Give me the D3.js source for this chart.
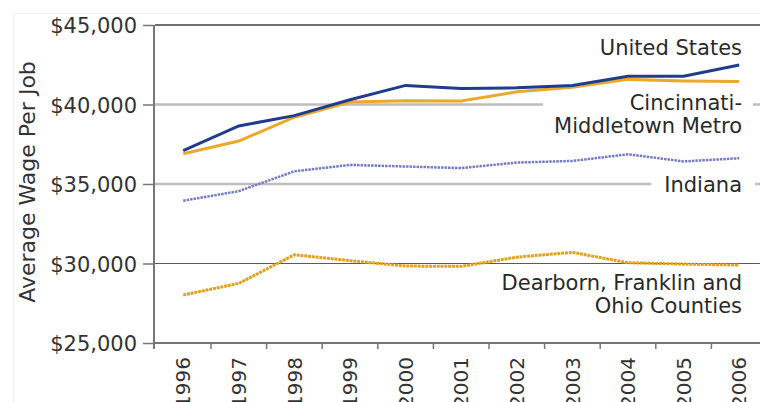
<!DOCTYPE html>
<html>
  <head>
    <meta charset="utf-8">
    <script src="https://d3js.org/d3.v7.min.js"></script>
    <title>Average Wage Per Job</title>
    <style>
      body { margin: 0px; background: white; }
      text { font-family: 'DejaVu Sans', sans-serif; fill: #2a2a2a; }
      .tick text { font-size: 21px; fill: #333333; }
      .series-label { font-size: 21px; }
      .axis-label { font-size: 22px; fill: #333333; }
    </style>
  </head>
  <body>
    <div id="chart"></div>
    <script>

      // data
      const years = ['1996','1997','1998','1999','2000','2001','2002','2003','2004','2005','2006'];
      const unitedStates = [37100, 38650, 39300, 40300, 41200, 41000, 41050, 41200, 41780, 41780, 42480];
      const cincinnati   = [36900, 37700, 39200, 40150, 40240, 40220, 40800, 41080, 41580, 41480, 41450];
      const indiana      = [33950, 34550, 35800, 36200, 36100, 36000, 36350, 36450, 36870, 36420, 36620];
      const dearborn     = [28020, 28750, 30550, 30180, 29840, 29820, 30400, 30700, 30050, 29960, 29900];
      const yTicks = [25000, 30000, 35000, 40000, 45000];

      const width = 760, height = 402;
      const svg = d3.select('#chart').append('svg')
        .attr('width', width)
        .attr('height', height);

      // faint frame of the original picture
      svg.append('path')
        .attr('d', 'M13.5,' + height + 'V13.5H' + width)
        .attr('fill', 'none')
        .attr('stroke', '#eeeeee')
        .attr('stroke-width', 1);

      const xScale = d3.scaleBand()
        .domain(years)
        .range([155.4, 155.4 + 55.6 * years.length])
        .padding(0);

      const yScale = d3.scaleLinear()
        .domain([25000, 45000])
        .range([343, 25]);

      const xc = d => xScale(d) + xScale.bandwidth() / 2;

      // gridlines
      const gridG = svg.append('g');
      gridG.selectAll('line').data(yTicks.filter(v => v > 25000))
        .enter().append('line')
          .attr('x1', 155)
          .attr('x2', width)
          .attr('y1', d => yScale(d))
          .attr('y2', d => yScale(d))
          .attr('stroke', d => (d === 35000 || d === 40000) ? '#bdbdbd' : (d === 45000 ? '#707070' : '#5a5a5a'))
          .attr('stroke-width', d => (d === 35000 || d === 40000) ? 2.5 : (d === 45000 ? 2 : 1.2));

      // y axis
      const yAxis = d3.axisLeft(yScale)
        .tickValues(yTicks)
        .tickFormat(d => '$' + d3.format(',')(d))
        .tickSize(11)
        .tickPadding(6);

      const yAxisG = svg.append('g')
        .attr('transform', 'translate(154,0)')
        .call(yAxis);
      yAxisG.select('.domain').remove();
      yAxisG.selectAll('.tick line').attr('stroke', '#777777').attr('stroke-width', 1.5);
      yAxisG.selectAll('.tick text').attr('dy', '0.36em');

      // x axis: labels at band centres, ticks on band edges
      const xAxis = d3.axisBottom(xScale)
        .tickSize(0)
        .tickPadding(0);
      const xAxisG = svg.append('g')
        .attr('transform', 'translate(0,343)')
        .call(xAxis);
      xAxisG.select('.domain').remove();
      xAxisG.selectAll('.tick text')
        .style('font-size', '20px')
        .attr('text-anchor', 'end')
        .attr('transform', 'rotate(-90)')
        .attr('x', -14)
        .attr('y', 0)
        .attr('dy', '0.36em');

      svg.append('g').selectAll('line').data(years.slice(1))
        .enter().append('line')
          .attr('x1', d => xScale(d))
          .attr('x2', d => xScale(d))
          .attr('y1', 343)
          .attr('y2', 349)
          .attr('stroke', '#777777')
          .attr('stroke-width', 1.5);

      // axis lines
      svg.append('line')
        .attr('x1', 154).attr('x2', 154)
        .attr('y1', 25).attr('y2', 349)
        .attr('stroke', '#777777').attr('stroke-width', 2);
      svg.append('line')
        .attr('x1', 153).attr('x2', width)
        .attr('y1', 343).attr('y2', 343)
        .attr('stroke', '#777777').attr('stroke-width', 2);

      // axis title
      svg.append('text')
        .attr('class', 'axis-label')
        .attr('transform', 'translate(35,182) rotate(-90)')
        .attr('text-anchor', 'middle')
        .text('Average Wage Per Job');

      // series labels, with white boxes that break the gridlines
      const labelG = svg.append('g');
      function addLabel(lines, y0, pad) {
        const t = labelG.append('text')
          .attr('class', 'series-label')
          .attr('text-anchor', 'end');
        lines.forEach((s, i) => {
          t.append('tspan').attr('x', 742).attr('y', y0 + i * 22.5).text(s);
        });
        const b = t.node().getBBox();
        labelG.insert('rect', 'text')
          .attr('x', b.x - pad)
          .attr('y', b.y)
          .attr('width', b.width + pad * 2)
          .attr('height', b.height)
          .attr('fill', 'white');
      }

      const line = d3.line()
        .x((d, i) => xc(years[i]))
        .y(d => yScale(d));

      addLabel(['United States'], 55, 0);
      addLabel(['Cincinnati-', 'Middletown Metro'], 110, 11);
      addLabel(['Indiana'], 192, 13);
      addLabel(['Dearborn, Franklin and', 'Ohio Counties'], 290, 0);

      const linesG = svg.append('g').attr('fill', 'none');
      linesG.append('path').datum(dearborn)
        .attr('d', line)
        .attr('stroke', '#e2a11c')
        .attr('stroke-width', 3)
        .attr('stroke-dasharray', '3,0.8');
      linesG.append('path').datum(indiana)
        .attr('d', line)
        .attr('stroke', '#747bc8')
        .attr('stroke-width', 2.5)
        .attr('stroke-dasharray', '2.5,1');
      linesG.append('path').datum(cincinnati)
        .attr('d', line)
        .attr('stroke', '#eaa92a')
        .attr('stroke-width', 3);
      linesG.append('path').datum(unitedStates)
        .attr('d', line)
        .attr('stroke', '#1f3c8f')
        .attr('stroke-width', 3);

    </script>
  </body>
</html>
